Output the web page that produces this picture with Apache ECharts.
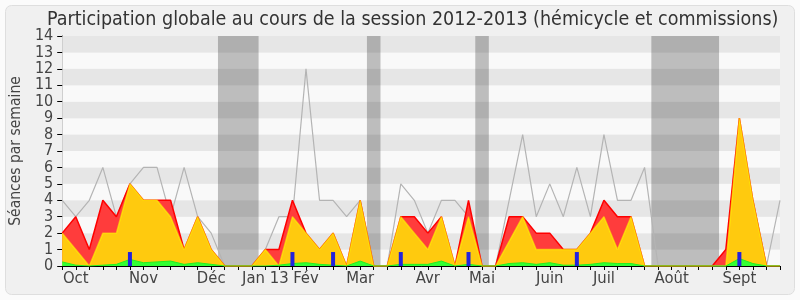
<!DOCTYPE html>
<html>
<head>
<meta charset="utf-8">
<script src="https://cdn.jsdelivr.net/npm/echarts@6/dist/echarts.min.js"></script>
<style>
html,body{margin:0;padding:0;background:#fbfbfb;}
#c{width:800px;height:300px;}
</style>
</head>
<body>
<div id="c"></div>
<script>
// Week index 0..53
const monthLabels = {1:'Oct',6:'Nov',11:'Déc',15:'Jan 13',18:'Fév',22:'Mar',27:'Avr',31:'Mai',36:'Juin',40:'Juil',45:'Août',50:'Sept'};
const totalSeances = [4,3,4,6,3,5,6,6,3,6,3,2,0,0,0,1,3,3,12,4,4,3,4,0,0,5,4,2,4,4,3,0,0,4,8,3,5,3,6,3,8,4,4,6,0,0,0,0,0,0,2,4,0,4];
const presenceTotale = [2,3,1,4,3,5,4,4,4,1,3,1,0,0,0,1,1,4,2,1,2,0,4,0,0,3,3,2,3,0,4,0,0,3,3,2,2,1,1,2,4,3,3,0,0,0,0,0,0,1,9,4,0,0];
const presenceHemicycle = [2,1,0,2,2,5,4,4,3,1,3,1,0,0,0,1,0,3,2,1,2,0,4,0,0,3,2,1,3,0,3,0,0,1.5,3,1,1,1,1,2,3,1,3,0,0,0,0,0,0,0,9,4,0,0];
const interventions = [0.25,0.05,0,0.05,0.1,0.4,0.2,0.25,0.3,0.1,0.2,0.1,0,0,0,0,0.05,0.15,0.2,0.1,0.05,0,0.3,0,0,0.1,0.1,0.1,0.3,0,0.1,0,0,0.15,0.2,0.1,0.2,0.05,0.05,0.1,0.2,0.15,0.15,0,0,0,0,0,0,0,0.45,0.15,0,0];
const questionsWeeks = [5,17,20,25,30,38,50];
const questionsValues = [0.85,0.85,0.85,0.85,0.85,0.85,0.85];
const vacances = [[11.5,14.5],[22.5,23.5],[30.5,31.5],[43.5,48.5]];

const pairs = arr => arr.map((v,i)=>[i,v]);
const FONT = 'DejaVu Sans Condensed';

const chart = echarts.init(document.getElementById('c'), null, {renderer:'canvas'});
chart.setOption({
  animation:false,
  backgroundColor:'transparent',
  graphic:[{type:'rect',shape:{x:5.5,y:5.5,width:789,height:289,r:6},style:{fill:'#f0f0f0',stroke:'#dedede',lineWidth:1},z:-10,silent:true}],
  title:{text:'Participation globale au cours de la session 2012-2013 (hémicycle et commissions)',left:42,top:5,
    textStyle:{fontFamily:FONT,fontSize:19.5,fontWeight:'normal',color:'#333'}},
  grid:{left:61.7,right:20,top:36,bottom:34},
  xAxis:[{type:'value',min:0,max:53,interval:1,
    axisLine:{show:true,lineStyle:{color:'#000',width:1}},
    axisTick:{show:true,length:4,lineStyle:{color:'#000'}},
    splitLine:{show:false},
    axisLabel:{margin:4,fontFamily:FONT,fontSize:16.5,color:'#444',formatter:v=>monthLabels[v]||''}},
   {type:'value',position:'top',min:0,max:53,interval:1,
    axisLine:{show:false},axisTick:{show:true,inside:true,length:1,lineStyle:{color:'#000'}},
    axisLabel:{show:false},splitLine:{show:false}}],
  yAxis:[{type:'value',min:0,max:14,interval:1,
    name:'Séances par semaine',nameLocation:'middle',nameGap:36,
    nameTextStyle:{fontFamily:FONT,fontSize:15.5,color:'#444'},
    axisLine:{show:true,lineStyle:{color:'#000'}},
    axisTick:{show:true,length:5,lineStyle:{color:'#000'}},
    axisLabel:{margin:9,fontFamily:FONT,fontSize:16,color:'#444'},
    splitLine:{show:false},
    splitArea:{show:true,areaStyle:{color:['#f9f9f9','#e6e6e6']}}},
   {type:'value',position:'right',min:0,max:14,interval:1,
    axisLine:{show:true,lineStyle:{color:'#cfcfcf'}},axisTick:{show:false},axisLabel:{show:false},splitLine:{show:false}}],
  series:[
    {type:'line',name:'total',data:pairs(totalSeances),symbol:'none',z:1,
      lineStyle:{color:'#b4b4b4',width:1.2},
      markArea:{silent:true,itemStyle:{color:'rgba(0,0,0,0.24)'},data:vacances.map(r=>[{xAxis:r[0]},{xAxis:r[1]}])}},
    {type:'line',name:'presence',data:pairs(presenceTotale),symbol:'none',z:2,
      lineStyle:{color:'#ff0000',width:1.5},areaStyle:{color:'#ff3c3c',opacity:1}},
    {type:'line',name:'hemicycle',data:pairs(presenceHemicycle),symbol:'none',z:3,
      lineStyle:{color:'rgba(255,255,0,0.55)',width:1.5},areaStyle:{color:'#ffd30c',opacity:0.94}},
    {type:'line',name:'interventions',data:pairs(interventions),symbol:'none',z:4,
      lineStyle:{color:'#22ee22',width:1},areaStyle:{color:'#33ff33',opacity:1}},
    {type:'bar',name:'questions',data:questionsWeeks.map((w,k)=>[w,questionsValues[k]]),barWidth:4,z:5,
      itemStyle:{color:'#2222dd'}}
  ]
});
</script>
</body>
</html>
